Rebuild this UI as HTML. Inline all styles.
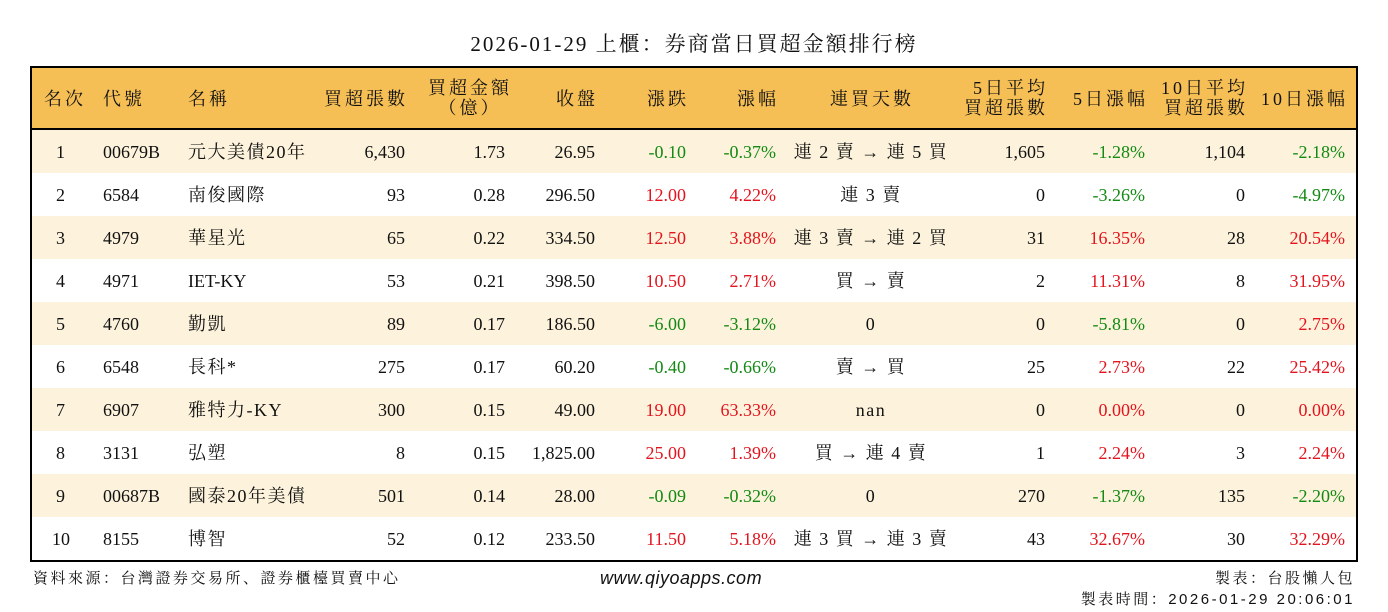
<!DOCTYPE html>
<html><head><meta charset="utf-8"><style>
body{margin:0;width:1388px;height:612px;background:#fff;position:relative;font-family:"Liberation Serif","Noto Serif CJK SC","Noto Serif CJK TC",serif;color:#111;overflow:hidden}
.t{position:absolute;top:28px;left:0;width:1388px;text-align:center;font-size:21px;letter-spacing:2px}
.box{position:absolute;left:30px;top:66px;width:1324px;height:492px;border:2px solid #000}
.hd{position:absolute;left:0;top:0;width:1324px;height:62px;background:#f6bf55;border-bottom:2px solid #000;box-sizing:border-box}
.hd .c{letter-spacing:3px;margin-right:-3px}
.r{position:absolute;left:0;width:1324px;height:43px}
.o{background:#fdf3dc}
.c{position:absolute;font-size:18px;line-height:20px;white-space:nowrap}
.n{letter-spacing:1.5px}
.k{left:749px;width:180px;text-align:center;letter-spacing:1.5px}
.g{color:#138a13}.d{color:#e3141e}
.f{position:absolute;font-family:"Liberation Sans","Noto Serif CJK SC",sans-serif;font-size:15px;letter-spacing:2.5px}
</style></head><body>
<div class="t">2026-01-29 上櫃：券商當日買超金額排行榜</div>
<div class="box">
<div class="hd">
<div class="c" style="left:12px;top:21px">名次</div>
<div class="c" style="left:71px;top:21px">代號</div>
<div class="c" style="left:156px;top:21px">名稱</div>
<div class="c" style="right:951px;top:21px">買超張數</div>
<div class="c" style="left:396px;top:10px;text-align:center;line-height:20px">買超金額<br>（億）</div>
<div class="c" style="right:761px;top:21px">收盤</div>
<div class="c" style="right:670px;top:21px">漲跌</div>
<div class="c" style="right:580px;top:21px">漲幅</div>
<div class="c" style="left:798px;top:21px">連買天數</div>
<div class="c" style="right:311px;top:10px;text-align:right">5日平均<br>買超張數</div>
<div class="c" style="right:211px;top:21px">5日漲幅</div>
<div class="c" style="right:111px;top:10px;text-align:right">10日平均<br>買超張數</div>
<div class="c" style="right:11px;top:21px">10日漲幅</div>
</div>

<div class="r o" style="top:62px">
<div class="c" style="left:24px;top:12px">1</div><div class="c" style="left:71px;top:12px">00679B</div><div class="c n" style="left:156px;top:12px">元大美債20年</div>
<div class="c" style="right:951px;top:12px">6,430</div><div class="c" style="right:851px;top:12px">1.73</div><div class="c" style="right:761px;top:12px">26.95</div>
<div class="c g" style="right:670px;top:12px">-0.10</div><div class="c g" style="right:580px;top:12px">-0.37%</div><div class="c k" style="top:12px">連 2 賣 → 連 5 買</div>
<div class="c" style="right:311px;top:12px">1,605</div><div class="c g" style="right:211px;top:12px">-1.28%</div><div class="c" style="right:111px;top:12px">1,104</div><div class="c g" style="right:11px;top:12px">-2.18%</div></div>

<div class="r" style="top:105px">
<div class="c" style="left:24px;top:12px">2</div><div class="c" style="left:71px;top:12px">6584</div><div class="c n" style="left:156px;top:12px">南俊國際</div>
<div class="c" style="right:951px;top:12px">93</div><div class="c" style="right:851px;top:12px">0.28</div><div class="c" style="right:761px;top:12px">296.50</div>
<div class="c d" style="right:670px;top:12px">12.00</div><div class="c d" style="right:580px;top:12px">4.22%</div><div class="c k" style="top:12px">連 3 賣</div>
<div class="c" style="right:311px;top:12px">0</div><div class="c g" style="right:211px;top:12px">-3.26%</div><div class="c" style="right:111px;top:12px">0</div><div class="c g" style="right:11px;top:12px">-4.97%</div></div>

<div class="r o" style="top:148px">
<div class="c" style="left:24px;top:12px">3</div><div class="c" style="left:71px;top:12px">4979</div><div class="c n" style="left:156px;top:12px">華星光</div>
<div class="c" style="right:951px;top:12px">65</div><div class="c" style="right:851px;top:12px">0.22</div><div class="c" style="right:761px;top:12px">334.50</div>
<div class="c d" style="right:670px;top:12px">12.50</div><div class="c d" style="right:580px;top:12px">3.88%</div><div class="c k" style="top:12px">連 3 賣 → 連 2 買</div>
<div class="c" style="right:311px;top:12px">31</div><div class="c d" style="right:211px;top:12px">16.35%</div><div class="c" style="right:111px;top:12px">28</div><div class="c d" style="right:11px;top:12px">20.54%</div></div>

<div class="r" style="top:191px">
<div class="c" style="left:24px;top:12px">4</div><div class="c" style="left:71px;top:12px">4971</div><div class="c" style="left:156px;top:12px">IET-KY</div>
<div class="c" style="right:951px;top:12px">53</div><div class="c" style="right:851px;top:12px">0.21</div><div class="c" style="right:761px;top:12px">398.50</div>
<div class="c d" style="right:670px;top:12px">10.50</div><div class="c d" style="right:580px;top:12px">2.71%</div><div class="c k" style="top:12px">買 → 賣</div>
<div class="c" style="right:311px;top:12px">2</div><div class="c d" style="right:211px;top:12px">11.31%</div><div class="c" style="right:111px;top:12px">8</div><div class="c d" style="right:11px;top:12px">31.95%</div></div>

<div class="r o" style="top:234px">
<div class="c" style="left:24px;top:12px">5</div><div class="c" style="left:71px;top:12px">4760</div><div class="c n" style="left:156px;top:12px">勤凱</div>
<div class="c" style="right:951px;top:12px">89</div><div class="c" style="right:851px;top:12px">0.17</div><div class="c" style="right:761px;top:12px">186.50</div>
<div class="c g" style="right:670px;top:12px">-6.00</div><div class="c g" style="right:580px;top:12px">-3.12%</div><div class="c k" style="top:12px">0</div>
<div class="c" style="right:311px;top:12px">0</div><div class="c g" style="right:211px;top:12px">-5.81%</div><div class="c" style="right:111px;top:12px">0</div><div class="c d" style="right:11px;top:12px">2.75%</div></div>

<div class="r" style="top:277px">
<div class="c" style="left:24px;top:12px">6</div><div class="c" style="left:71px;top:12px">6548</div><div class="c n" style="left:156px;top:12px">長科*</div>
<div class="c" style="right:951px;top:12px">275</div><div class="c" style="right:851px;top:12px">0.17</div><div class="c" style="right:761px;top:12px">60.20</div>
<div class="c g" style="right:670px;top:12px">-0.40</div><div class="c g" style="right:580px;top:12px">-0.66%</div><div class="c k" style="top:12px">賣 → 買</div>
<div class="c" style="right:311px;top:12px">25</div><div class="c d" style="right:211px;top:12px">2.73%</div><div class="c" style="right:111px;top:12px">22</div><div class="c d" style="right:11px;top:12px">25.42%</div></div>

<div class="r o" style="top:320px">
<div class="c" style="left:24px;top:12px">7</div><div class="c" style="left:71px;top:12px">6907</div><div class="c n" style="left:156px;top:12px">雅特力-KY</div>
<div class="c" style="right:951px;top:12px">300</div><div class="c" style="right:851px;top:12px">0.15</div><div class="c" style="right:761px;top:12px">49.00</div>
<div class="c d" style="right:670px;top:12px">19.00</div><div class="c d" style="right:580px;top:12px">63.33%</div><div class="c k" style="top:12px">nan</div>
<div class="c" style="right:311px;top:12px">0</div><div class="c d" style="right:211px;top:12px">0.00%</div><div class="c" style="right:111px;top:12px">0</div><div class="c d" style="right:11px;top:12px">0.00%</div></div>

<div class="r" style="top:363px">
<div class="c" style="left:24px;top:12px">8</div><div class="c" style="left:71px;top:12px">3131</div><div class="c n" style="left:156px;top:12px">弘塑</div>
<div class="c" style="right:951px;top:12px">8</div><div class="c" style="right:851px;top:12px">0.15</div><div class="c" style="right:761px;top:12px">1,825.00</div>
<div class="c d" style="right:670px;top:12px">25.00</div><div class="c d" style="right:580px;top:12px">1.39%</div><div class="c k" style="top:12px">買 → 連 4 賣</div>
<div class="c" style="right:311px;top:12px">1</div><div class="c d" style="right:211px;top:12px">2.24%</div><div class="c" style="right:111px;top:12px">3</div><div class="c d" style="right:11px;top:12px">2.24%</div></div>

<div class="r o" style="top:406px">
<div class="c" style="left:24px;top:12px">9</div><div class="c" style="left:71px;top:12px">00687B</div><div class="c n" style="left:156px;top:12px">國泰20年美債</div>
<div class="c" style="right:951px;top:12px">501</div><div class="c" style="right:851px;top:12px">0.14</div><div class="c" style="right:761px;top:12px">28.00</div>
<div class="c g" style="right:670px;top:12px">-0.09</div><div class="c g" style="right:580px;top:12px">-0.32%</div><div class="c k" style="top:12px">0</div>
<div class="c" style="right:311px;top:12px">270</div><div class="c g" style="right:211px;top:12px">-1.37%</div><div class="c" style="right:111px;top:12px">135</div><div class="c g" style="right:11px;top:12px">-2.20%</div></div>

<div class="r" style="top:449px">
<div class="c" style="left:20px;top:12px">10</div><div class="c" style="left:71px;top:12px">8155</div><div class="c n" style="left:156px;top:12px">博智</div>
<div class="c" style="right:951px;top:12px">52</div><div class="c" style="right:851px;top:12px">0.12</div><div class="c" style="right:761px;top:12px">233.50</div>
<div class="c d" style="right:670px;top:12px">11.50</div><div class="c d" style="right:580px;top:12px">5.18%</div><div class="c k" style="top:12px">連 3 買 → 連 3 賣</div>
<div class="c" style="right:311px;top:12px">43</div><div class="c d" style="right:211px;top:12px">32.67%</div><div class="c" style="right:111px;top:12px">30</div><div class="c d" style="right:11px;top:12px">32.29%</div></div>
</div>
<div class="f" style="left:33px;top:567px">資料來源：台灣證券交易所、證券櫃檯買賣中心</div>
<div class="f" style="left:600px;top:568px;font-size:18px;font-style:italic;letter-spacing:0.5px">www.qiyoapps.com</div>
<div class="f" style="right:33px;top:567px">製表：台股懶人包</div>
<div class="f" style="right:33px;top:588px">製表時間：2026-01-29 20:06:01</div>
</body></html>
